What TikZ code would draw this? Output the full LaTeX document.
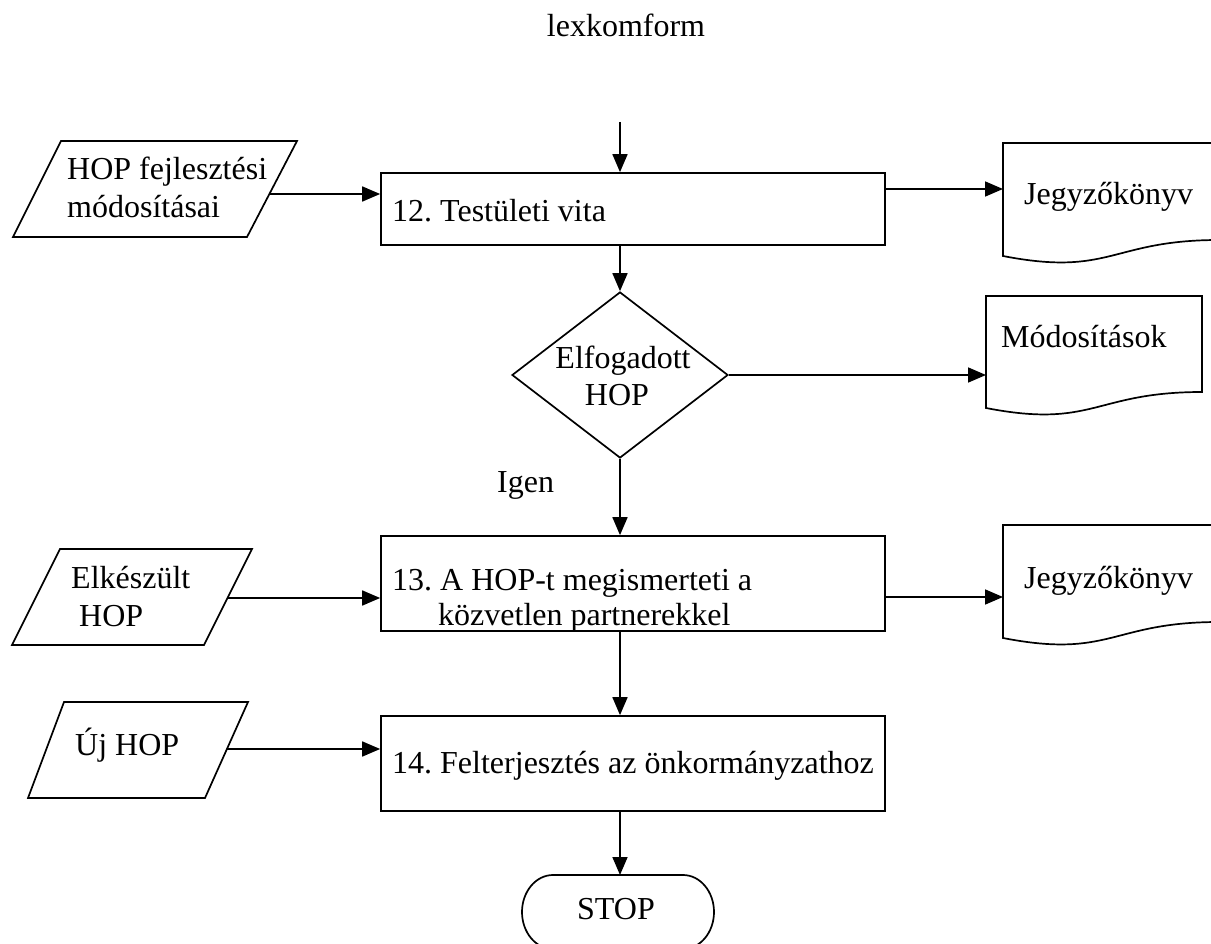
\documentclass[tikz,border=0pt]{standalone}
\usepackage{fontspec}
\setmainfont{Liberation Serif}
\usetikzlibrary{arrows.meta,shapes.geometric}
\newcommand\dfont{\fontsize{32}{37}\selectfont}
\frenchspacing
\begin{document}
\begin{tikzpicture}[x=1pt,y=-1pt,
  sh/.style={draw=black,line width=1.7pt,line join=miter},
  arr/.style={-{Triangle[length=18pt,width=15pt]},line width=1.7pt},
  lbl/.style={anchor=base west,inner sep=0pt,font=\dfont},
  clbl/.style={anchor=base,inner sep=0pt,font=\dfont},
  procbox/.style={sh,rectangle,minimum width=504pt,inner sep=0pt}]
\useasboundingbox (0,0) rectangle (1211,944);
\clip (0,0) rectangle (1211,944);
\fill[white] (0,0) rectangle (1211,944);

% title
\node[clbl] (title) at (626,37) {lexkomform};

% process boxes
\node[procbox,minimum height=72pt] (b12) at (633,209) {};
\node[procbox,minimum height=95pt] (b13) at (633,583.5) {};
\node[procbox,minimum height=95pt] (b14) at (633,763.5) {};
\node[lbl] (b12t) at (392,222) {12. Testületi vita};
\node[lbl] (b13a) at (392,590) {13. A HOP-t megismerteti a};
\node[lbl] (b13b) at (438,625) {közvetlen partnerekkel};
\node[lbl] (b14t) at (392,773) {14. Felterjesztés az önkormányzathoz};

% decision
\node[sh,diamond,minimum width=216pt,minimum height=166pt,inner sep=0pt] (dec) at (620,375) {};
\node[clbl] (dect1) at (623,368) {Elfogadott};
\node[clbl] (dect2) at (617,405) {HOP};
\node[lbl] (igen) at (497,492) {Igen};

% input parallelograms
\draw[sh] (13,237) -- (247,237) -- (297,141) -- (61,141) -- cycle;
\node[lbl] (p1a) at (67,180) {HOP fejlesztési};
\node[lbl] (p1b) at (67,218) {módosításai};
\coordinate (p1o) at (269,194);

\draw[sh] (12,645) -- (204,645) -- (252,549) -- (60,549) -- cycle;
\node[lbl] (p2a) at (71,588) {Elkészült};
\node[lbl] (p2b) at (79,626) {HOP};
\coordinate (p2o) at (228,598);

\draw[sh] (28,798) -- (205,798) -- (248,702) -- (64,702) -- cycle;
\node[lbl] (p3) at (75,755) {Új HOP};
\coordinate (p3o) at (227,749);

% documents
\draw[sh] (1003,256) -- (1003,143) -- (1219,143) -- (1219,240)
  .. controls (1111,240) and (1111,277) .. (1003,256) -- cycle;
\node[lbl] (j1) at (1024,205) {Jegyzőkönyv};
\coordinate (d1w) at (1003,189);

\draw[sh] (986,408) -- (986,296) -- (1202,296) -- (1202,392)
  .. controls (1094,392) and (1094,429) .. (986,408) -- cycle;
\node[lbl] (m2) at (1001,348) {Módosítások};
\coordinate (d2w) at (986,375);

\draw[sh] (1003,638) -- (1003,525) -- (1219,525) -- (1219,622)
  .. controls (1111,622) and (1111,659) .. (1003,638) -- cycle;
\node[lbl] (j3) at (1024,588) {Jegyzőkönyv};
\coordinate (d3w) at (1003,597);

% terminator
\draw[sh] (553,875) -- (683,875) arc[start angle=-90,end angle=90,x radius=31,y radius=37]
  -- (553,949) arc[start angle=90,end angle=270,x radius=31,y radius=37] -- cycle;
\node[clbl] (stop) at (616,919) {STOP};
\coordinate (stopN) at (620,875);

% connectors
\coordinate (ax) at (620,0);
\coordinate (start) at (620,122);
\draw[arr] (start) -- (start |- b12.north);
\draw[arr] (p1o) -- (p1o -| b12.west);
\draw[arr] (d1w -| b12.east) -- (d1w);
\draw[arr] (ax |- b12.south) -- (dec.north);
\draw[arr] (dec.east) -- (d2w);
\draw[arr] (dec.south) -- (ax |- b13.north);
\draw[arr] (p2o) -- (p2o -| b13.west);
\draw[arr] (d3w -| b13.east) -- (d3w);
\draw[arr] (ax |- b13.south) -- (ax |- b14.north);
\draw[arr] (p3o) -- (p3o -| b14.west);
\draw[arr] (ax |- b14.south) -- (stopN);
\end{tikzpicture}
\end{document}
